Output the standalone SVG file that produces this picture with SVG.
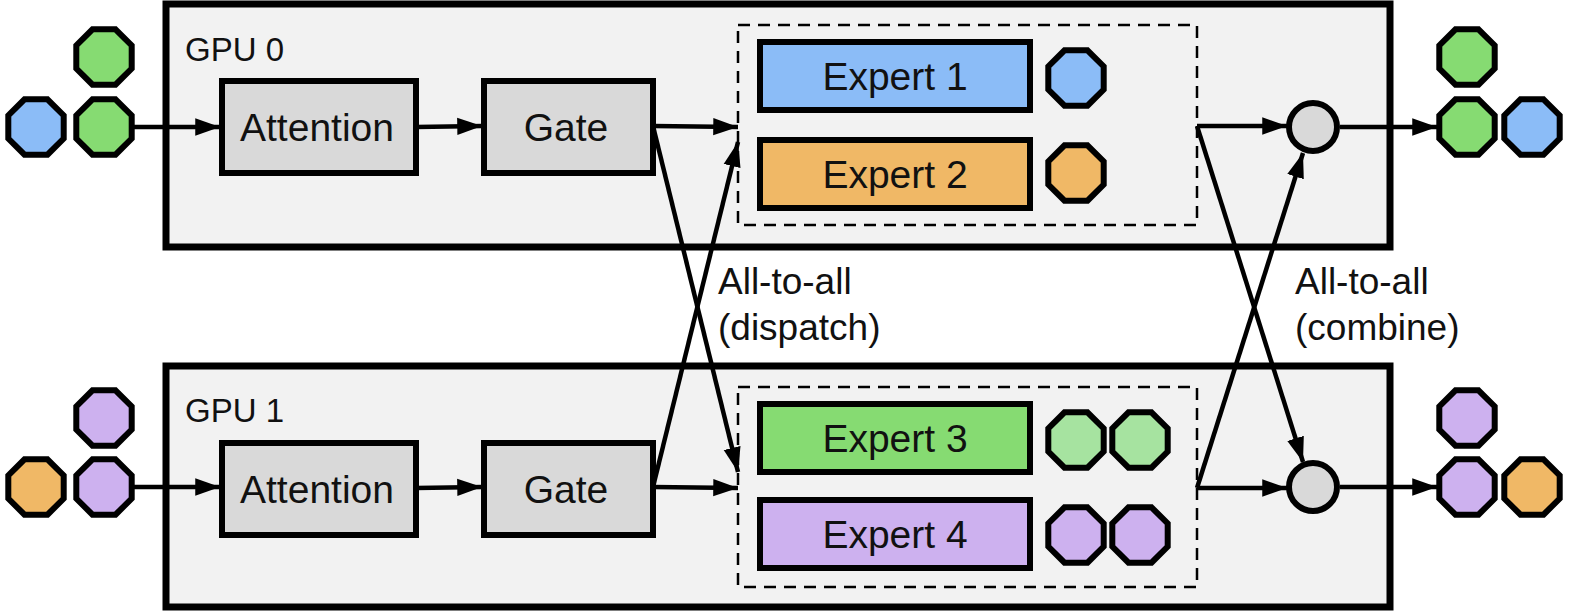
<svg xmlns="http://www.w3.org/2000/svg" xmlns:xlink="http://www.w3.org/1999/xlink" width="1578" height="614" viewBox="0 0 1578 614">
<style>
.gpu{fill:#f2f2f2;stroke:#000;stroke-width:7}
.box{stroke:#000;stroke-width:6}
.dash{fill:none;stroke:#000;stroke-width:2.5;stroke-dasharray:12 8}
.t{font-family:"Liberation Sans",Arial,sans-serif;font-size:39px;fill:#111}
.c{text-anchor:middle}
.ln{stroke:#000;stroke-width:4.5;fill:none;marker-end:url(#ah)}
.oc{stroke:#000;stroke-width:6}
</style>
<defs>
<marker id="ah" viewBox="0 0 10 10" refX="10" refY="5" markerWidth="5.5" markerHeight="5.5" orient="auto" markerUnits="strokeWidth"><path d="M0,1.5 L10,5 L0,8.5 z" fill="#000"/></marker>
<polygon id="oct" points="11.5,-27.7 27.7,-11.5 27.7,11.5 11.5,27.7 -11.5,27.7 -27.7,11.5 -27.7,-11.5 -11.5,-27.7"/>
</defs>
<g id="gpu0">
<rect class="gpu" x="166" y="4" width="1224" height="243"/>
<text class="t" x="185" y="61" style="font-size:33px">GPU 0</text>
</g>
<g id="gpu1">
<rect class="gpu" x="166" y="366" width="1224" height="241"/>
<text class="t" x="185" y="422" style="font-size:33px">GPU 1</text>
</g>
<g id="attn0"><rect class="box" x="222" y="81" width="194" height="92" fill="#d9d9d9"/><text class="t c" x="317" y="141">Attention</text></g>
<g id="gate0"><rect class="box" x="484" y="81" width="169" height="92" fill="#d9d9d9"/><text class="t c" x="566" y="141">Gate</text></g>
<g id="attn1"><rect class="box" x="222" y="443" width="194" height="92" fill="#d9d9d9"/><text class="t c" x="317" y="503">Attention</text></g>
<g id="gate1"><rect class="box" x="484" y="443" width="169" height="92" fill="#d9d9d9"/><text class="t c" x="566" y="503">Gate</text></g>
<g id="experts0">
<rect class="dash" x="738" y="25" width="459" height="200"/>
<rect class="box" x="760" y="42" width="270" height="68" fill="#8bbcf7"/><text class="t c" x="895" y="90">Expert 1</text>
<rect class="box" x="760" y="140" width="270" height="68" fill="#f0b866"/><text class="t c" x="895" y="188">Expert 2</text>
<use href="#oct" x="1076" y="78" class="oc" fill="#8bbcf7"/>
<use href="#oct" x="1076" y="173" class="oc" fill="#f0b866"/>
</g>
<g id="experts1">
<rect class="dash" x="738" y="387" width="459" height="200"/>
<rect class="box" x="760" y="404" width="270" height="68" fill="#86db72"/><text class="t c" x="895" y="452">Expert 3</text>
<rect class="box" x="760" y="500" width="270" height="68" fill="#cdb1ef"/><text class="t c" x="895" y="548">Expert 4</text>
<use href="#oct" x="1076" y="440" class="oc" fill="#a6e3a0"/>
<use href="#oct" x="1140" y="440" class="oc" fill="#a6e3a0"/>
<use href="#oct" x="1076" y="535" class="oc" fill="#cdb1ef"/>
<use href="#oct" x="1140" y="535" class="oc" fill="#cdb1ef"/>
</g>
<g id="combine0"><circle cx="1313" cy="127" r="24" fill="#d9d9d9" stroke="#000" stroke-width="6"/></g>
<g id="combine1"><circle cx="1313" cy="487" r="24" fill="#d9d9d9" stroke="#000" stroke-width="6"/></g>
<g id="tokens">
<use href="#oct" x="104" y="57" class="oc" fill="#86db72"/>
<use href="#oct" x="36" y="127" class="oc" fill="#8bbcf7"/>
<use href="#oct" x="104" y="127" class="oc" fill="#86db72"/>
<use href="#oct" x="104" y="418" class="oc" fill="#cdb1ef"/>
<use href="#oct" x="36" y="487" class="oc" fill="#f0b866"/>
<use href="#oct" x="104" y="487" class="oc" fill="#cdb1ef"/>
<use href="#oct" x="1467" y="57" class="oc" fill="#86db72"/>
<use href="#oct" x="1467" y="127" class="oc" fill="#86db72"/>
<use href="#oct" x="1532" y="127" class="oc" fill="#8bbcf7"/>
<use href="#oct" x="1467" y="418" class="oc" fill="#cdb1ef"/>
<use href="#oct" x="1467" y="487" class="oc" fill="#cdb1ef"/>
<use href="#oct" x="1532" y="487" class="oc" fill="#f0b866"/>
</g>
<g id="connectors">
<line class="ln" x1="134" y1="127" x2="220" y2="127"/>
<line class="ln" x1="416" y1="127" x2="482" y2="126"/>
<line class="ln" x1="134" y1="487" x2="220" y2="487"/>
<line class="ln" x1="416" y1="488" x2="482" y2="487"/>
<line class="ln" x1="653" y1="126" x2="738" y2="127"/>
<line class="ln" x1="653" y1="126" x2="738" y2="472"/>
<line class="ln" x1="653" y1="487" x2="738" y2="142"/>
<line class="ln" x1="653" y1="487" x2="738" y2="488"/>
<line class="ln" x1="1197" y1="126" x2="1287" y2="126"/>
<line class="ln" x1="1197" y1="126" x2="1303" y2="462"/>
<line class="ln" x1="1197" y1="488" x2="1303" y2="153"/>
<line class="ln" x1="1197" y1="488" x2="1287" y2="488"/>
<line class="ln" x1="1340" y1="127" x2="1437" y2="127"/>
<line class="ln" x1="1340" y1="487" x2="1437" y2="487"/>
</g>
<g id="labels">
<text class="t" x="718" y="294" style="font-size:37px">All-to-all</text>
<text class="t" x="718" y="340" style="font-size:37px">(dispatch)</text>
<text class="t" x="1295" y="294" style="font-size:37px">All-to-all</text>
<text class="t" x="1295" y="340" style="font-size:37px">(combine)</text>
</g>
</svg>
